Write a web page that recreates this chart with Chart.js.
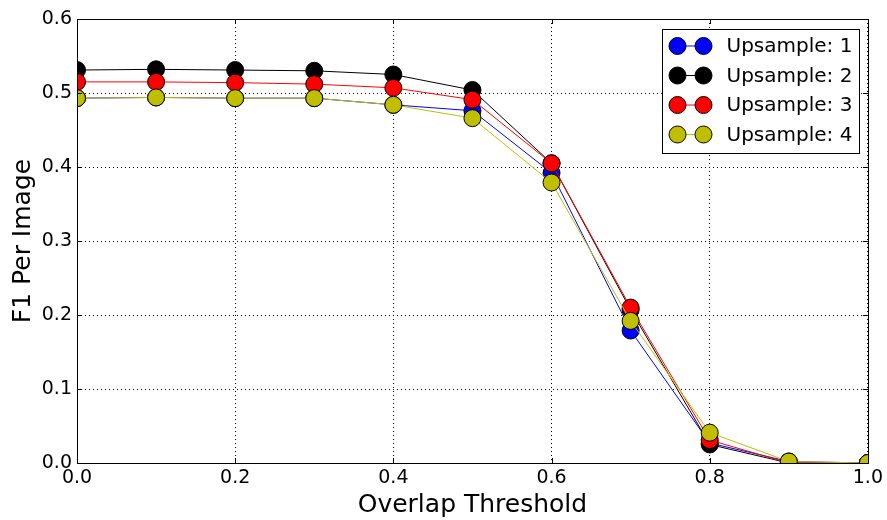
<!DOCTYPE html>
<html>
<head>
<meta charset="utf-8">
<script src="https://cdn.jsdelivr.net/npm/chart.js@4/dist/chart.umd.min.js"></script>
<style>
  html, body { margin: 0; padding: 0; background: #fff; }
  #wrap { width: 887px; height: 520px; }
</style>
</head>
<body>
<div id="wrap"><canvas id="c" width="887" height="520"></canvas></div>
<script>
// Overlap thresholds on the x axis
const thresholds = [0.0, 0.1, 0.2, 0.3, 0.4, 0.5, 0.6, 0.7, 0.8, 0.9, 1.0];

// F1 per image for each upsampling factor
const upsample1 = [0.493, 0.494, 0.493, 0.493, 0.484, 0.476, 0.392, 0.179, 0.027, 0.002, 0.0];
const upsample2 = [0.531, 0.532, 0.531, 0.530, 0.525, 0.504, 0.405, 0.207, 0.025, 0.0, 0.0];
const upsample3 = [0.515, 0.515, 0.514, 0.512, 0.507, 0.491, 0.405, 0.210, 0.031, 0.0, 0.0];
const upsample4 = [0.493, 0.494, 0.493, 0.493, 0.484, 0.466, 0.379, 0.192, 0.041, 0.002, 0.0];

const seriesLabels = ['Upsample: 1', 'Upsample: 2', 'Upsample: 3', 'Upsample: 4'];
const seriesValues = [upsample1, upsample2, upsample3, upsample4];
const seriesColors = ['#0000ff', '#000000', '#ff0000', '#bfbf00'];

const FONT = "'DejaVu Sans', sans-serif";

const datasets = seriesValues.map((vals, i) => ({
  label: seriesLabels[i],
  data: thresholds.map((x, j) => ({ x: x, y: vals[j] })),
  borderColor: seriesColors[i],
  backgroundColor: seriesColors[i],
  borderWidth: 1,
  pointRadius: 8.5,
  pointHoverRadius: 8.5,
  pointBorderColor: '#000',
  pointBorderWidth: 1,
  pointBackgroundColor: seriesColors[i],
  tension: 0,
  // later series are painted over earlier ones
  order: seriesValues.length - i
}));

// Frame, inward ticks on all four sides, and a boxed legend in the top-right corner
const framePlugin = {
  id: 'frame',
  afterDraw(chart) {
    const ctx = chart.ctx;
    const a = chart.chartArea;
    const xs = chart.scales.x, ys = chart.scales.y;
    ctx.save();
    ctx.strokeStyle = '#000';
    ctx.lineWidth = 1;
    const tl = 5;
    ctx.beginPath();
    xs.ticks.forEach(t => {
      const px = Math.round(xs.getPixelForValue(t.value)) + 0.5;
      ctx.moveTo(px, a.bottom); ctx.lineTo(px, a.bottom - tl);
      ctx.moveTo(px, a.top); ctx.lineTo(px, a.top + tl);
    });
    ys.ticks.forEach(t => {
      const py = Math.round(ys.getPixelForValue(t.value)) + 0.5;
      ctx.moveTo(a.left, py); ctx.lineTo(a.left + tl, py);
      ctx.moveTo(a.right, py); ctx.lineTo(a.right - tl, py);
    });
    ctx.stroke();
    ctx.strokeRect(Math.round(a.left) + 0.5, Math.round(a.top) + 0.5,
                   Math.round(a.right - a.left), Math.round(a.bottom - a.top));

    // legend
    const bw = 197, rowH = 29.5;
    const bh = 124;
    const bx = Math.round(a.right) - 9 - bw + 0.5;
    const by = Math.round(a.top) + 10 + 0.5;
    ctx.fillStyle = '#fff';
    ctx.fillRect(bx, by, bw, bh);
    ctx.strokeRect(bx, by, bw, bh);
    ctx.font = '20px ' + FONT;
    ctx.textBaseline = 'middle';
    ctx.textAlign = 'left';
    chart.data.datasets.forEach((ds, i) => {
      const cy = by + 16.5 + i * rowH;
      const x1 = bx + 15, x2 = bx + 41;
      ctx.strokeStyle = ds.borderColor;
      ctx.lineWidth = 1;
      ctx.beginPath(); ctx.moveTo(x1, cy); ctx.lineTo(x2, cy); ctx.stroke();
      [x1, x2].forEach(px => {
        ctx.beginPath();
        ctx.arc(px, cy, 8.5, 0, Math.PI * 2);
        ctx.fillStyle = ds.pointBackgroundColor;
        ctx.fill();
        ctx.strokeStyle = '#000';
        ctx.stroke();
      });
      ctx.fillStyle = '#000';
      ctx.fillText(ds.label, bx + 64, cy + 1);
    });
    ctx.restore();
  }
};

new Chart(document.getElementById('c'), {
  type: 'line',
  data: { datasets: datasets },
  options: {
    responsive: false,
    animation: false,
    events: [],
    layout: { padding: { top: 19, right: 18, left: 0, bottom: 0 } },
    plugins: { legend: { display: false }, tooltip: { enabled: false } },
    scales: {
      x: {
        type: 'linear',
        min: 0, max: 1,
        z: 1,
        afterFit: s => { s.height = 57; },
        ticks: {
          stepSize: 0.2,
          color: '#000',
          font: { family: FONT, size: 19 },
          padding: 4,
          maxRotation: 0,
          callback: v => v.toFixed(1)
        },
        grid: { color: '#000', lineWidth: 1, drawTicks: false },
        border: { display: false, dash: [1, 3] },
        title: {
          display: true,
          text: 'Overlap Threshold',
          color: '#000',
          font: { family: FONT, size: 25 },
          padding: { top: 0, bottom: 0 }
        }
      },
      y: {
        type: 'linear',
        min: 0, max: 0.6,
        z: 1,
        afterFit: s => { s.width = 77; },
        ticks: {
          stepSize: 0.1,
          color: '#000',
          font: { family: FONT, size: 19 },
          padding: 5,
          callback: v => v.toFixed(1)
        },
        grid: { color: '#000', lineWidth: 1, drawTicks: false },
        border: { display: false, dash: [1, 3] },
        title: {
          display: true,
          text: 'F1 Per Image',
          color: '#000',
          font: { family: FONT, size: 25 },
          padding: { top: 8, bottom: 0 }
        }
      }
    }
  },
  plugins: [framePlugin]
});
</script>
</body>
</html>
